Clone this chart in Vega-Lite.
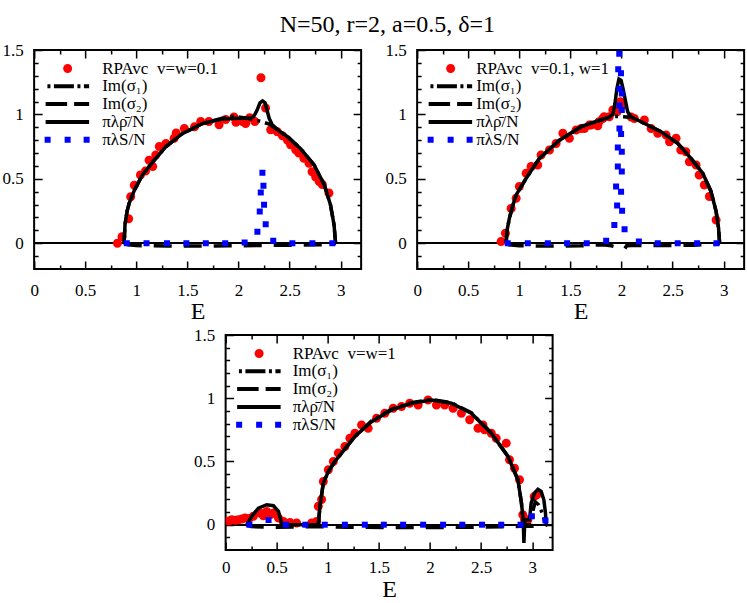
{
"$schema":"https://vega.github.io/schema/vega-lite/v6.json",
"padding":{"left":0,"right":2,"top":13,"bottom":0},
"title":{"text":"N=50, r=2, a=0.5, δ=1","font":"Liberation Serif","fontSize":24,"fontWeight":"normal","color":"black","anchor":"middle","offset":3,"dx":14},
"config":{"view":{"stroke":"black","strokeWidth":2},"font":"Liberation Serif",
 "axis":{"grid":false,"domain":false,"tickColor":"black","tickWidth":1.5,"labelColor":"black","labelFont":"Liberation Serif","labelFontSize":17,"titleFont":"Liberation Serif","titleFontSize":24,"titleFontWeight":"normal","titleColor":"black","labelFlush":false,"labelOverlap":false,"format":"~g"}},
"datasets":{
"A":[
{"s":"a","x":0.815,"y":0.0},{"s":"a","x":0.86,"y":0.05},{"s":"a","x":0.925,"y":0.19},{"s":"a","x":0.945,"y":0.36},{"s":"a","x":0.98,"y":0.45},{"s":"a","x":1.04,"y":0.53},{"s":"a","x":1.09,"y":0.56},{"s":"a","x":1.125,"y":0.645},{"s":"a","x":1.16,"y":0.595},{"s":"a","x":1.19,"y":0.685},{"s":"a","x":1.225,"y":0.75},{"s":"a","x":1.29,"y":0.775},{"s":"a","x":1.37,"y":0.815},{"s":"a","x":1.39,"y":0.855},{"s":"a","x":1.47,"y":0.89},{"s":"a","x":1.57,"y":0.905},{"s":"a","x":1.63,"y":0.945},{"s":"a","x":1.71,"y":0.945},{"s":"a","x":1.81,"y":0.92},{"s":"a","x":1.875,"y":0.96},{"s":"a","x":1.955,"y":0.98},{"s":"a","x":1.975,"y":0.94},{"s":"a","x":2.04,"y":0.945},{"s":"a","x":2.07,"y":0.93},{"s":"a","x":2.11,"y":0.975},{"s":"a","x":2.16,"y":0.945},{"s":"a","x":2.22,"y":1.285},{"s":"a","x":2.265,"y":1.05},{"s":"a","x":2.315,"y":0.88},{"s":"a","x":2.38,"y":0.865},{"s":"a","x":2.43,"y":0.835},{"s":"a","x":2.48,"y":0.8},{"s":"a","x":2.51,"y":0.765},{"s":"a","x":2.56,"y":0.725},{"s":"a","x":2.59,"y":0.7},{"s":"a","x":2.64,"y":0.66},{"s":"a","x":2.69,"y":0.62},{"s":"a","x":2.72,"y":0.555},{"s":"a","x":2.755,"y":0.515},{"s":"a","x":2.79,"y":0.48},{"s":"a","x":2.82,"y":0.455},{"s":"a","x":2.885,"y":0.39},
{"s":"b","x":0.88,"y":0},{"s":"b","x":0.89,"y":0.15},{"s":"b","x":0.91,"y":0.25},{"s":"b","x":0.93,"y":0.31},{"s":"b","x":0.98,"y":0.41},{"s":"b","x":1.06,"y":0.53},{"s":"b","x":1.16,"y":0.63},{"s":"b","x":1.29,"y":0.75},{"s":"b","x":1.45,"y":0.85},{"s":"b","x":1.65,"y":0.93},{"s":"b","x":1.84,"y":0.97},{"s":"b","x":1.95,"y":0.985},{"s":"b","x":2.05,"y":0.975},{"s":"b","x":2.12,"y":0.965},{"s":"b","x":2.2,"y":0.95},{"s":"b","x":2.3,"y":0.925},{"s":"b","x":2.4,"y":0.87},{"s":"b","x":2.48,"y":0.827},{"s":"b","x":2.61,"y":0.732},{"s":"b","x":2.74,"y":0.608},{"s":"b","x":2.84,"y":0.453},{"s":"b","x":2.9,"y":0.298},{"s":"b","x":2.935,"y":0.143},{"s":"b","x":2.95,"y":0},
{"s":"c","x":0.88,"y":0},{"s":"c","x":0.92,"y":-0.012},{"s":"c","x":1.0,"y":-0.018},{"s":"c","x":1.3,"y":-0.022},{"s":"c","x":1.6,"y":-0.022},{"s":"c","x":1.9,"y":-0.02},{"s":"c","x":2.2,"y":-0.018},{"s":"c","x":2.5,"y":-0.015},{"s":"c","x":2.8,"y":-0.012},{"s":"c","x":2.92,"y":-0.008},{"s":"c","x":2.95,"y":0},
{"s":"d","x":0.88,"y":0},{"s":"d","x":0.89,"y":0.15},{"s":"d","x":0.91,"y":0.25},{"s":"d","x":0.93,"y":0.31},{"s":"d","x":0.98,"y":0.41},{"s":"d","x":1.06,"y":0.53},{"s":"d","x":1.16,"y":0.63},{"s":"d","x":1.29,"y":0.75},{"s":"d","x":1.45,"y":0.85},{"s":"d","x":1.65,"y":0.93},{"s":"d","x":1.84,"y":0.965},{"s":"d","x":2.0,"y":0.97},{"s":"d","x":2.12,"y":0.97},{"s":"d","x":2.15,"y":0.985},{"s":"d","x":2.18,"y":1.03},{"s":"d","x":2.21,"y":1.09},{"s":"d","x":2.235,"y":1.105},{"s":"d","x":2.26,"y":1.09},{"s":"d","x":2.28,"y":1.03},{"s":"d","x":2.3,"y":0.97},{"s":"d","x":2.33,"y":0.92},{"s":"d","x":2.4,"y":0.87},{"s":"d","x":2.48,"y":0.827},{"s":"d","x":2.61,"y":0.732},{"s":"d","x":2.74,"y":0.608},{"s":"d","x":2.84,"y":0.453},{"s":"d","x":2.9,"y":0.298},{"s":"d","x":2.935,"y":0.143},{"s":"d","x":2.95,"y":0},
{"s":"e","x":0.907,"y":0},{"s":"e","x":1.1,"y":0},{"s":"e","x":1.3,"y":0},{"s":"e","x":1.49,"y":0},{"s":"e","x":1.68,"y":0},{"s":"e","x":1.87,"y":0},{"s":"e","x":2.06,"y":0.005},{"s":"e","x":2.185,"y":0.09},{"s":"e","x":2.208,"y":0.246},{"s":"e","x":2.218,"y":0.393},{"s":"e","x":2.234,"y":0.548},{"s":"e","x":2.244,"y":0.447},{"s":"e","x":2.25,"y":0.298},{"s":"e","x":2.266,"y":0.147},{"s":"e","x":2.34,"y":0.02},{"s":"e","x":2.527,"y":0},{"s":"e","x":2.723,"y":0},{"s":"e","x":2.918,"y":0}
],
"B":[
{"s":"a","x":0.822,"y":0.013},{"s":"a","x":0.864,"y":0.078},{"s":"a","x":0.92,"y":0.27},{"s":"a","x":0.969,"y":0.35},{"s":"a","x":1.0,"y":0.44},{"s":"a","x":1.067,"y":0.543},{"s":"a","x":1.115,"y":0.595},{"s":"a","x":1.18,"y":0.608},{"s":"a","x":1.213,"y":0.685},{"s":"a","x":1.295,"y":0.724},{"s":"a","x":1.36,"y":0.775},{"s":"a","x":1.426,"y":0.853},{"s":"a","x":1.49,"y":0.814},{"s":"a","x":1.556,"y":0.879},{"s":"a","x":1.605,"y":0.89},{"s":"a","x":1.637,"y":0.89},{"s":"a","x":1.686,"y":0.918},{"s":"a","x":1.703,"y":0.918},{"s":"a","x":1.768,"y":0.912},{"s":"a","x":1.78,"y":0.943},{"s":"a","x":1.817,"y":0.969},{"s":"a","x":1.83,"y":0.982},{"s":"a","x":1.88,"y":0.982},{"s":"a","x":1.915,"y":1.034},{"s":"a","x":1.957,"y":1.02},{"s":"a","x":1.964,"y":1.06},{"s":"a","x":1.99,"y":1.098},{"s":"a","x":2.01,"y":1.073},{"s":"a","x":2.094,"y":0.98},{"s":"a","x":2.126,"y":0.969},{"s":"a","x":2.224,"y":0.957},{"s":"a","x":2.29,"y":0.89},{"s":"a","x":2.355,"y":0.853},{"s":"a","x":2.436,"y":0.84},{"s":"a","x":2.47,"y":0.788},{"s":"a","x":2.534,"y":0.814},{"s":"a","x":2.58,"y":0.724},{"s":"a","x":2.63,"y":0.711},{"s":"a","x":2.664,"y":0.633},{"s":"a","x":2.73,"y":0.608},{"s":"a","x":2.76,"y":0.53},{"s":"a","x":2.81,"y":0.453},{"s":"a","x":2.86,"y":0.362},{"s":"a","x":2.926,"y":0.181},
{"s":"b","x":0.871,"y":0},{"s":"b","x":0.88,"y":0.1},{"s":"b","x":0.903,"y":0.194},{"s":"b","x":0.935,"y":0.29},{"s":"b","x":0.969,"y":0.375},{"s":"b","x":1.067,"y":0.504},{"s":"b","x":1.197,"y":0.659},{"s":"b","x":1.393,"y":0.8},{"s":"b","x":1.605,"y":0.905},{"s":"b","x":1.75,"y":0.945},{"s":"b","x":1.866,"y":0.975},{"s":"b","x":1.95,"y":0.985},{"s":"b","x":2.05,"y":0.98},{"s":"b","x":2.094,"y":0.978},{"s":"b","x":2.19,"y":0.943},{"s":"b","x":2.387,"y":0.866},{"s":"b","x":2.55,"y":0.775},{"s":"b","x":2.68,"y":0.659},{"s":"b","x":2.795,"y":0.543},{"s":"b","x":2.877,"y":0.4},{"s":"b","x":2.926,"y":0.246},{"s":"b","x":2.95,"y":0.116},{"s":"b","x":2.96,"y":0},
{"s":"c","x":0.871,"y":0},{"s":"c","x":0.9,"y":-0.012},{"s":"c","x":1.0,"y":-0.02},{"s":"c","x":1.3,"y":-0.022},{"s":"c","x":1.6,"y":-0.02},{"s":"c","x":1.82,"y":-0.012},{"s":"c","x":1.9,"y":-0.02},{"s":"c","x":1.97,"y":-0.035},{"s":"c","x":2.03,"y":-0.045},{"s":"c","x":2.05,"y":-0.02},{"s":"c","x":2.1,"y":-0.018},{"s":"c","x":2.4,"y":-0.018},{"s":"c","x":2.7,"y":-0.015},{"s":"c","x":2.93,"y":-0.008},{"s":"c","x":2.96,"y":0},
{"s":"d","x":0.871,"y":0},{"s":"d","x":0.88,"y":0.1},{"s":"d","x":0.903,"y":0.194},{"s":"d","x":0.935,"y":0.29},{"s":"d","x":0.969,"y":0.375},{"s":"d","x":1.067,"y":0.504},{"s":"d","x":1.197,"y":0.659},{"s":"d","x":1.393,"y":0.8},{"s":"d","x":1.605,"y":0.905},{"s":"d","x":1.75,"y":0.945},{"s":"d","x":1.866,"y":0.975},{"s":"d","x":1.915,"y":1.0},{"s":"d","x":1.935,"y":1.08},{"s":"d","x":1.955,"y":1.2},{"s":"d","x":1.975,"y":1.275},{"s":"d","x":1.996,"y":1.265},{"s":"d","x":2.015,"y":1.2},{"s":"d","x":2.035,"y":1.12},{"s":"d","x":2.06,"y":1.02},{"s":"d","x":2.094,"y":0.982},{"s":"d","x":2.19,"y":0.943},{"s":"d","x":2.387,"y":0.866},{"s":"d","x":2.55,"y":0.775},{"s":"d","x":2.68,"y":0.659},{"s":"d","x":2.795,"y":0.543},{"s":"d","x":2.877,"y":0.4},{"s":"d","x":2.926,"y":0.246},{"s":"d","x":2.95,"y":0.116},{"s":"d","x":2.96,"y":0},
{"s":"e","x":0.887,"y":0},{"s":"e","x":1.083,"y":0},{"s":"e","x":1.279,"y":0},{"s":"e","x":1.468,"y":0},{"s":"e","x":1.66,"y":0},{"s":"e","x":1.85,"y":0.02},{"s":"e","x":1.93,"y":0.142},{"s":"e","x":2.03,"y":0.109},{"s":"e","x":1.957,"y":0.292},{"s":"e","x":2.006,"y":0.253},{"s":"e","x":1.947,"y":0.44},{"s":"e","x":1.996,"y":0.4},{"s":"e","x":1.964,"y":0.595},{"s":"e","x":2.003,"y":0.556},{"s":"e","x":1.964,"y":0.744},{"s":"e","x":2.003,"y":0.71},{"s":"e","x":1.98,"y":0.89},{"s":"e","x":1.996,"y":0.848},{"s":"e","x":1.98,"y":1.07},{"s":"e","x":2.003,"y":1.034},{"s":"e","x":1.98,"y":1.2},{"s":"e","x":2.003,"y":1.163},{"s":"e","x":1.968,"y":1.35},{"s":"e","x":1.995,"y":1.32},{"s":"e","x":1.978,"y":1.47},{"s":"e","x":2.17,"y":0.013},{"s":"e","x":2.355,"y":0},{"s":"e","x":2.55,"y":0},{"s":"e","x":2.74,"y":0},{"s":"e","x":2.93,"y":0}
],
"C":[
{"s":"a","x":0.03,"y":0.03},{"s":"a","x":0.06,"y":0.04},{"s":"a","x":0.095,"y":0.035},{"s":"a","x":0.126,"y":0.04},{"s":"a","x":0.16,"y":0.045},{"s":"a","x":0.19,"y":0.053},{"s":"a","x":0.23,"y":0.05},{"s":"a","x":0.272,"y":0.066},{"s":"a","x":0.337,"y":0.092},{"s":"a","x":0.37,"y":0.07},{"s":"a","x":0.402,"y":0.105},{"s":"a","x":0.44,"y":0.08},{"s":"a","x":0.468,"y":0.092},{"s":"a","x":0.517,"y":0.053},{"s":"a","x":0.565,"y":0.026},{"s":"a","x":0.63,"y":0.018},{"s":"a","x":0.695,"y":0.013},{"s":"a","x":0.842,"y":0.013},{"s":"a","x":0.89,"y":0.026},{"s":"a","x":0.907,"y":0.145},{"s":"a","x":0.939,"y":0.2},{"s":"a","x":0.956,"y":0.342},{"s":"a","x":1.005,"y":0.434},{"s":"a","x":1.054,"y":0.5},{"s":"a","x":1.103,"y":0.566},{"s":"a","x":1.167,"y":0.618},{"s":"a","x":1.216,"y":0.684},{"s":"a","x":1.265,"y":0.723},{"s":"a","x":1.33,"y":0.789},{"s":"a","x":1.395,"y":0.763},{"s":"a","x":1.477,"y":0.842},{"s":"a","x":1.558,"y":0.882},{"s":"a","x":1.64,"y":0.921},{"s":"a","x":1.721,"y":0.934},{"s":"a","x":1.802,"y":0.96},{"s":"a","x":1.884,"y":0.947},{"s":"a","x":1.981,"y":0.987},{"s":"a","x":2.063,"y":0.947},{"s":"a","x":2.144,"y":0.947},{"s":"a","x":2.226,"y":0.921},{"s":"a","x":2.307,"y":0.882},{"s":"a","x":2.388,"y":0.829},{"s":"a","x":2.47,"y":0.763},{"s":"a","x":2.518,"y":0.789},{"s":"a","x":2.534,"y":0.75},{"s":"a","x":2.6,"y":0.724},{"s":"a","x":2.648,"y":0.684},{"s":"a","x":2.746,"y":0.645},{"s":"a","x":2.778,"y":0.513},{"s":"a","x":2.827,"y":0.447},{"s":"a","x":2.876,"y":0.355},{"s":"a","x":2.908,"y":0.079},{"s":"a","x":2.925,"y":0.04},{"s":"a","x":2.958,"y":0.04},{"s":"a","x":3.02,"y":0.223},{"s":"a","x":3.045,"y":0.237},
{"s":"b","x":0.907,"y":0},{"s":"b","x":0.923,"y":0.145},{"s":"b","x":0.956,"y":0.33},{"s":"b","x":1.005,"y":0.42},{"s":"b","x":1.069,"y":0.5},{"s":"b","x":1.135,"y":0.566},{"s":"b","x":1.265,"y":0.7},{"s":"b","x":1.428,"y":0.82},{"s":"b","x":1.623,"y":0.912},{"s":"b","x":1.818,"y":0.965},{"s":"b","x":2.014,"y":0.99},{"s":"b","x":2.209,"y":0.965},{"s":"b","x":2.404,"y":0.885},{"s":"b","x":2.6,"y":0.724},{"s":"b","x":2.763,"y":0.54},{"s":"b","x":2.86,"y":0.355},{"s":"b","x":2.895,"y":0.171},{"s":"b","x":2.912,"y":0},{"s":"b","x":2.99,"y":0},{"s":"b","x":3.01,"y":0.12},{"s":"b","x":3.03,"y":0.18},{"s":"b","x":3.06,"y":0.16},{"s":"b","x":3.1,"y":0.09},{"s":"b","x":3.12,"y":0.03},
{"s":"c","x":0.2,"y":0},{"s":"c","x":0.25,"y":-0.015},{"s":"c","x":0.5,"y":-0.02},{"s":"c","x":0.9,"y":-0.015},{"s":"c","x":1.2,"y":-0.02},{"s":"c","x":1.6,"y":-0.022},{"s":"c","x":2.0,"y":-0.022},{"s":"c","x":2.4,"y":-0.02},{"s":"c","x":2.8,"y":-0.015},{"s":"c","x":2.95,"y":-0.01},{"s":"c","x":3.12,"y":-0.015},{"s":"c","x":3.14,"y":0},
{"s":"d","x":0.207,"y":0},{"s":"d","x":0.256,"y":0.066},{"s":"d","x":0.321,"y":0.131},{"s":"d","x":0.402,"y":0.158},{"s":"d","x":0.468,"y":0.15},{"s":"d","x":0.517,"y":0.105},{"s":"d","x":0.539,"y":0.04},{"s":"d","x":0.549,"y":0},{"s":"d","x":0.907,"y":0},{"s":"d","x":0.923,"y":0.145},{"s":"d","x":0.956,"y":0.33},{"s":"d","x":1.005,"y":0.42},{"s":"d","x":1.069,"y":0.5},{"s":"d","x":1.135,"y":0.566},{"s":"d","x":1.265,"y":0.697},{"s":"d","x":1.428,"y":0.815},{"s":"d","x":1.623,"y":0.908},{"s":"d","x":1.818,"y":0.96},{"s":"d","x":2.014,"y":0.985},{"s":"d","x":2.209,"y":0.96},{"s":"d","x":2.404,"y":0.882},{"s":"d","x":2.6,"y":0.724},{"s":"d","x":2.763,"y":0.54},{"s":"d","x":2.86,"y":0.355},{"s":"d","x":2.895,"y":0.171},{"s":"d","x":2.912,"y":0.04},{"s":"d","x":2.919,"y":-0.145},{"s":"d","x":2.928,"y":0.04},{"s":"d","x":2.974,"y":0.04},{"s":"d","x":2.99,"y":0.17},{"s":"d","x":3.022,"y":0.25},{"s":"d","x":3.056,"y":0.28},{"s":"d","x":3.088,"y":0.263},{"s":"d","x":3.114,"y":0.197},{"s":"d","x":3.13,"y":0.092},{"s":"d","x":3.137,"y":0},
{"s":"e","x":0.233,"y":0},{"s":"e","x":0.42,"y":0.037},{"s":"e","x":0.59,"y":0},{"s":"e","x":0.78,"y":0},{"s":"e","x":0.97,"y":0},{"s":"e","x":1.167,"y":0},{"s":"e","x":1.362,"y":0},{"s":"e","x":1.548,"y":0},{"s":"e","x":1.737,"y":0},{"s":"e","x":1.933,"y":0},{"s":"e","x":2.128,"y":0},{"s":"e","x":2.316,"y":0},{"s":"e","x":2.509,"y":0},{"s":"e","x":2.697,"y":0},{"s":"e","x":2.886,"y":0},{"s":"e","x":2.997,"y":0.066},{"s":"e","x":3.13,"y":0.034}
]},
"vconcat":[
{"hconcat":[
{"width":327,"height":219,"data":{"name":"A"},
 "layer":[
  {"mark":{"type":"rule","color":"black","strokeWidth":1.2},"encoding":{"y":{"datum":0,"type":"quantitative","scale":{"domain":[-0.2,1.5],"nice":false,"zero":false},"axis":null}}},
  {"transform":[{"filter":"datum.s == 'a'"}],"mark":{"type":"point","filled":true,"size":100,"opacity":1,"clip":true},
   "encoding":{"x":{"field":"x","type":"quantitative","scale":{"domain":[0,3.2],"nice":false,"zero":false},"axis":{"orient":"bottom","values":[0,0.5,1,1.5,2,2.5,3],"tickSize":-8,"labelPadding":21,"title":"E","titlePadding":1}},
    "y":{"field":"y","type":"quantitative","scale":{"domain":[-0.2,1.5],"nice":false,"zero":false},"axis":{"orient":"left","values":[0,0.5,1,1.5],"tickSize":-8,"labelPadding":19,"title":null}},
    "color":{"field":"s","type":"nominal","scale":{"domain":["a","b","c","d","e"],"range":["#ff0000","#000000","#000000","#000000","#0000ff"]},
     "legend":{"orient":"none","legendX":25,"legendY":10,"title":null,"padding":0,"symbolSize":100,"labelOffset":26,"rowPadding":-0.2,"labelFont":"Liberation Serif","labelFontSize":17,"labelColor":"black","labelLimit":300,
      "labelExpr":"datum.value == 'a' ? 'RPAvc\u2002v=w=0.1' : datum.value == 'b' ? 'Im(σ₁)' : datum.value == 'c' ? 'Im(σ₂)' : datum.value == 'd' ? 'πλρ̄/N' : 'πλS/N'",
      "encode":{"symbols":{"update":{"stroke":{"value":"transparent"},"strokeWidth":{"value":0},"opacity":{"value":1}}}}}},
    "shape":{"field":"s","type":"nominal","scale":{"domain":["a","b","c","d","e"],"range":["M0.9,0A0.9,0.9,0,1,1,-0.9,0A0.9,0.9,0,1,1,0.9,0Z","M-4.04,-0.4H-3.44V0.4H-4.04Z M-2.74,-0.4H1.26V0.4H-2.74Z M1.96,-0.4H2.56V0.4H1.96Z M3.26,-0.4H4.3V0.4H3.26Z","M-4.4,-0.4H-0.1V0.4H-4.4Z M1.3,-0.4H4.3V0.4H1.3Z","M-4.4,-0.4H4.3V0.4H-4.4Z","M-4.6,-0.6H-3.4V0.6H-4.6Z M-0.6,-0.6H0.6V0.6H-0.6Z M3.2,-0.6H4.4V0.6H3.2Z"]},
     "legend":{"orient":"none","legendX":25,"legendY":10,"title":null,"padding":0,"symbolSize":100,"labelOffset":26,"rowPadding":-0.2,"labelFont":"Liberation Serif","labelFontSize":17,"labelColor":"black","labelLimit":300,
      "labelExpr":"datum.value == 'a' ? 'RPAvc\u2002v=w=0.1' : datum.value == 'b' ? 'Im(σ₁)' : datum.value == 'c' ? 'Im(σ₂)' : datum.value == 'd' ? 'πλρ̄/N' : 'πλS/N'",
      "encode":{"symbols":{"update":{"stroke":{"value":"transparent"},"strokeWidth":{"value":0},"opacity":{"value":1}}}}}}}},
  {"transform":[{"filter":"datum.s == 'c'"}],"mark":{"type":"line","color":"black","strokeWidth":3.5,"strokeDash":[18,12],"clip":true},
   "encoding":{"x":{"field":"x","type":"quantitative","axis":{"orient":"bottom","values":[0.25,0.75,1.25,1.75,2.25,2.75],"tickSize":-4,"labels":false,"title":null}},
    "y":{"field":"y","type":"quantitative","axis":{"orient":"left","values":[-0.1,0.1,0.2,0.3,0.4,0.6,0.7,0.8,0.9,1.1,1.2,1.3,1.4],"tickSize":-4,"labels":false,"title":null}}}},
  {"transform":[{"filter":"datum.s == 'b'"}],"mark":{"type":"line","color":"black","strokeWidth":3.5,"strokeDash":[14,5,3,5],"clip":true},
   "encoding":{"x":{"field":"x","type":"quantitative","axis":{"orient":"top","values":[0,0.5,1,1.5,2,2.5,3],"tickSize":-8,"labels":false,"title":null}},
    "y":{"field":"y","type":"quantitative","axis":{"orient":"right","values":[0,0.5,1,1.5],"tickSize":-8,"labels":false,"title":null}}}},
  {"transform":[{"filter":"datum.s == 'd'"}],"mark":{"type":"line","color":"black","strokeWidth":3.5,"clip":true},
   "encoding":{"x":{"field":"x","type":"quantitative","axis":{"orient":"top","values":[0.25,0.75,1.25,1.75,2.25,2.75],"tickSize":-4,"labels":false,"title":null}},
    "y":{"field":"y","type":"quantitative","axis":{"orient":"right","values":[-0.1,0.1,0.2,0.3,0.4,0.6,0.7,0.8,0.9,1.1,1.2,1.3,1.4],"tickSize":-4,"labels":false,"title":null}}}},
  {"transform":[{"filter":"datum.s == 'e'"}],"mark":{"type":"point","shape":"square","filled":true,"color":"#0000ff","size":36,"opacity":1,"clip":true},
   "encoding":{"x":{"field":"x","type":"quantitative","axis":null},"y":{"field":"y","type":"quantitative","axis":null}}}
 ],
 "resolve":{"axis":{"x":"independent","y":"independent"}}},
{"width":327,"height":219,"data":{"name":"B"},
 "layer":[
  {"mark":{"type":"rule","color":"black","strokeWidth":1.2},"encoding":{"y":{"datum":0,"type":"quantitative","scale":{"domain":[-0.2,1.5],"nice":false,"zero":false},"axis":null}}},
  {"transform":[{"filter":"datum.s == 'a'"}],"mark":{"type":"point","filled":true,"size":100,"opacity":1,"clip":true},
   "encoding":{"x":{"field":"x","type":"quantitative","scale":{"domain":[0,3.2],"nice":false,"zero":false},"axis":{"orient":"bottom","values":[0,0.5,1,1.5,2,2.5,3],"tickSize":-8,"labelPadding":21,"title":"E","titlePadding":1}},
    "y":{"field":"y","type":"quantitative","scale":{"domain":[-0.2,1.5],"nice":false,"zero":false},"axis":{"orient":"left","values":[0,0.5,1,1.5],"tickSize":-8,"labelPadding":19,"title":null}},
    "color":{"field":"s","type":"nominal","scale":{"domain":["a","b","c","d","e"],"range":["#ff0000","#000000","#000000","#000000","#0000ff"]},
     "legend":{"orient":"none","legendX":25,"legendY":10,"title":null,"padding":0,"symbolSize":100,"labelOffset":17,"rowPadding":-0.2,"labelFont":"Liberation Serif","labelFontSize":17,"labelColor":"black","labelLimit":300,
      "labelExpr":"datum.value == 'a' ? 'RPAvc\u2002v=0.1, w=1' : datum.value == 'b' ? 'Im(σ₁)' : datum.value == 'c' ? 'Im(σ₂)' : datum.value == 'd' ? 'πλρ̄/N' : 'πλS/N'",
      "encode":{"symbols":{"update":{"stroke":{"value":"transparent"},"strokeWidth":{"value":0},"opacity":{"value":1}}}}}},
    "shape":{"field":"s","type":"nominal","scale":{"domain":["a","b","c","d","e"],"range":["M0.9,0A0.9,0.9,0,1,1,-0.9,0A0.9,0.9,0,1,1,0.9,0Z","M-4.04,-0.4H-3.44V0.4H-4.04Z M-2.74,-0.4H1.26V0.4H-2.74Z M1.96,-0.4H2.56V0.4H1.96Z M3.26,-0.4H4.3V0.4H3.26Z","M-4.4,-0.4H-0.1V0.4H-4.4Z M1.3,-0.4H4.3V0.4H1.3Z","M-4.4,-0.4H4.3V0.4H-4.4Z","M-4.6,-0.6H-3.4V0.6H-4.6Z M-0.6,-0.6H0.6V0.6H-0.6Z M3.2,-0.6H4.4V0.6H3.2Z"]},
     "legend":{"orient":"none","legendX":25,"legendY":10,"title":null,"padding":0,"symbolSize":100,"labelOffset":17,"rowPadding":-0.2,"labelFont":"Liberation Serif","labelFontSize":17,"labelColor":"black","labelLimit":300,
      "labelExpr":"datum.value == 'a' ? 'RPAvc\u2002v=0.1, w=1' : datum.value == 'b' ? 'Im(σ₁)' : datum.value == 'c' ? 'Im(σ₂)' : datum.value == 'd' ? 'πλρ̄/N' : 'πλS/N'",
      "encode":{"symbols":{"update":{"stroke":{"value":"transparent"},"strokeWidth":{"value":0},"opacity":{"value":1}}}}}}}},
  {"transform":[{"filter":"datum.s == 'c'"}],"mark":{"type":"line","color":"black","strokeWidth":3.5,"strokeDash":[18,12],"clip":true},
   "encoding":{"x":{"field":"x","type":"quantitative","axis":{"orient":"bottom","values":[0.25,0.75,1.25,1.75,2.25,2.75],"tickSize":-4,"labels":false,"title":null}},
    "y":{"field":"y","type":"quantitative","axis":{"orient":"left","values":[-0.1,0.1,0.2,0.3,0.4,0.6,0.7,0.8,0.9,1.1,1.2,1.3,1.4],"tickSize":-4,"labels":false,"title":null}}}},
  {"transform":[{"filter":"datum.s == 'b'"}],"mark":{"type":"line","color":"black","strokeWidth":3.5,"strokeDash":[14,5,3,5],"clip":true},
   "encoding":{"x":{"field":"x","type":"quantitative","axis":{"orient":"top","values":[0,0.5,1,1.5,2,2.5,3],"tickSize":-8,"labels":false,"title":null}},
    "y":{"field":"y","type":"quantitative","axis":{"orient":"right","values":[0,0.5,1,1.5],"tickSize":-8,"labels":false,"title":null}}}},
  {"transform":[{"filter":"datum.s == 'd'"}],"mark":{"type":"line","color":"black","strokeWidth":3.5,"clip":true},
   "encoding":{"x":{"field":"x","type":"quantitative","axis":{"orient":"top","values":[0.25,0.75,1.25,1.75,2.25,2.75],"tickSize":-4,"labels":false,"title":null}},
    "y":{"field":"y","type":"quantitative","axis":{"orient":"right","values":[-0.1,0.1,0.2,0.3,0.4,0.6,0.7,0.8,0.9,1.1,1.2,1.3,1.4],"tickSize":-4,"labels":false,"title":null}}}},
  {"transform":[{"filter":"datum.s == 'e'"}],"mark":{"type":"point","shape":"square","filled":true,"color":"#0000ff","size":36,"opacity":1,"clip":true},
   "encoding":{"x":{"field":"x","type":"quantitative","axis":null},"y":{"field":"y","type":"quantitative","axis":null}}}
 ],
 "resolve":{"axis":{"x":"independent","y":"independent"}}}
],"spacing":20,"resolve":{"scale":{"x":"independent","y":"independent","shape":"independent","color":"independent"},"legend":{"shape":"independent","color":"independent"}}},
{"width":327,"height":215,"data":{"name":"C"},
 "layer":[
  {"mark":{"type":"rule","color":"black","strokeWidth":1.2},"encoding":{"y":{"datum":0,"type":"quantitative","scale":{"domain":[-0.2,1.5],"nice":false,"zero":false},"axis":null}}},
  {"transform":[{"filter":"datum.s == 'a'"}],"mark":{"type":"point","filled":true,"size":100,"opacity":1,"clip":true},
   "encoding":{"x":{"field":"x","type":"quantitative","scale":{"domain":[0,3.2],"nice":false,"zero":false},"axis":{"orient":"bottom","values":[0,0.5,1,1.5,2,2.5,3],"tickSize":-8,"labelPadding":17,"title":"E","titlePadding":2}},
    "y":{"field":"y","type":"quantitative","scale":{"domain":[-0.2,1.5],"nice":false,"zero":false},"axis":{"orient":"left","values":[0,0.5,1,1.5],"tickSize":-8,"labelPadding":19,"title":null}},
    "color":{"field":"s","type":"nominal","scale":{"domain":["a","b","c","d","e"],"range":["#ff0000","#000000","#000000","#000000","#0000ff"]},
     "legend":{"orient":"none","legendX":25,"legendY":10,"title":null,"padding":0,"symbolSize":100,"labelOffset":25,"rowPadding":-0.2,"labelFont":"Liberation Serif","labelFontSize":17,"labelColor":"black","labelLimit":300,
      "labelExpr":"datum.value == 'a' ? 'RPAvc\u2002v=w=1' : datum.value == 'b' ? 'Im(σ₁)' : datum.value == 'c' ? 'Im(σ₂)' : datum.value == 'd' ? 'πλρ̄/N' : 'πλS/N'",
      "encode":{"symbols":{"update":{"stroke":{"value":"transparent"},"strokeWidth":{"value":0},"opacity":{"value":1}}}}}},
    "shape":{"field":"s","type":"nominal","scale":{"domain":["a","b","c","d","e"],"range":["M0.9,0A0.9,0.9,0,1,1,-0.9,0A0.9,0.9,0,1,1,0.9,0Z","M-4.04,-0.4H-3.44V0.4H-4.04Z M-2.74,-0.4H1.26V0.4H-2.74Z M1.96,-0.4H2.56V0.4H1.96Z M3.26,-0.4H4.3V0.4H3.26Z","M-4.4,-0.4H-0.1V0.4H-4.4Z M1.3,-0.4H4.3V0.4H1.3Z","M-4.4,-0.4H4.3V0.4H-4.4Z","M-4.6,-0.6H-3.4V0.6H-4.6Z M-0.6,-0.6H0.6V0.6H-0.6Z M3.2,-0.6H4.4V0.6H3.2Z"]},
     "legend":{"orient":"none","legendX":25,"legendY":10,"title":null,"padding":0,"symbolSize":100,"labelOffset":25,"rowPadding":-0.2,"labelFont":"Liberation Serif","labelFontSize":17,"labelColor":"black","labelLimit":300,
      "labelExpr":"datum.value == 'a' ? 'RPAvc\u2002v=w=1' : datum.value == 'b' ? 'Im(σ₁)' : datum.value == 'c' ? 'Im(σ₂)' : datum.value == 'd' ? 'πλρ̄/N' : 'πλS/N'",
      "encode":{"symbols":{"update":{"stroke":{"value":"transparent"},"strokeWidth":{"value":0},"opacity":{"value":1}}}}}}}},
  {"transform":[{"filter":"datum.s == 'c'"}],"mark":{"type":"line","color":"black","strokeWidth":3.5,"strokeDash":[18,12],"clip":true},
   "encoding":{"x":{"field":"x","type":"quantitative","axis":{"orient":"bottom","values":[0.25,0.75,1.25,1.75,2.25,2.75],"tickSize":-4,"labels":false,"title":null}},
    "y":{"field":"y","type":"quantitative","axis":{"orient":"left","values":[-0.1,0.1,0.2,0.3,0.4,0.6,0.7,0.8,0.9,1.1,1.2,1.3,1.4],"tickSize":-4,"labels":false,"title":null}}}},
  {"transform":[{"filter":"datum.s == 'b'"}],"mark":{"type":"line","color":"black","strokeWidth":3.5,"strokeDash":[14,5,3,5],"clip":true},
   "encoding":{"x":{"field":"x","type":"quantitative","axis":{"orient":"top","values":[0,0.5,1,1.5,2,2.5,3],"tickSize":-8,"labels":false,"title":null}},
    "y":{"field":"y","type":"quantitative","axis":{"orient":"right","values":[0,0.5,1,1.5],"tickSize":-8,"labels":false,"title":null}}}},
  {"transform":[{"filter":"datum.s == 'd'"}],"mark":{"type":"line","color":"black","strokeWidth":3.5,"clip":true},
   "encoding":{"x":{"field":"x","type":"quantitative","axis":{"orient":"top","values":[0.25,0.75,1.25,1.75,2.25,2.75],"tickSize":-4,"labels":false,"title":null}},
    "y":{"field":"y","type":"quantitative","axis":{"orient":"right","values":[-0.1,0.1,0.2,0.3,0.4,0.6,0.7,0.8,0.9,1.1,1.2,1.3,1.4],"tickSize":-4,"labels":false,"title":null}}}},
  {"transform":[{"filter":"datum.s == 'e'"}],"mark":{"type":"point","shape":"square","filled":true,"color":"#0000ff","size":36,"opacity":1,"clip":true},
   "encoding":{"x":{"field":"x","type":"quantitative","axis":null},"y":{"field":"y","type":"quantitative","axis":null}}}
 ],
 "resolve":{"axis":{"x":"independent","y":"independent"}}}
],
"spacing":1,"center":true,
"resolve":{"scale":{"x":"independent","y":"independent","shape":"independent","color":"independent"},"legend":{"shape":"independent","color":"independent"}}
}
